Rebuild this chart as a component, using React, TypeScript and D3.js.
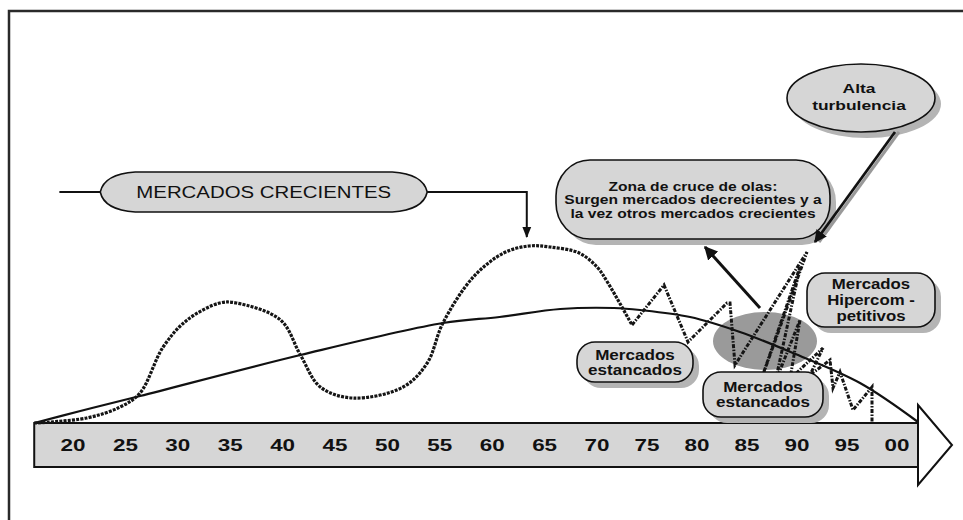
import * as d3 from "d3";

const W = 963;
const H = 520;
const FONT = "'Liberation Sans', Arial, sans-serif";

// eje de tiempo
const tickYears = [1920, 1925, 1930, 1935, 1940, 1945, 1950, 1955, 1960, 1965, 1970, 1975, 1980, 1985, 1990, 1995, 2000];
const tickLabels = ["20", "25", "30", "35", "40", "45", "50", "55", "60", "65", "70", "75", "80", "85", "90", "95", "00"];

// onda larga (linea continua)
const longYears = [1916.3, 1920.7, 1926.4, 1941.7, 1955.3, 1960.7, 1966.5, 1971.7, 1974.3, 1979.3, 1984.3, 1989.6, 1996.3, 2002.1];
const longValues = [0, 6, 13.5, 34, 50, 53, 57, 57.5, 56.5, 53, 45.5, 35, 20, 0.5];

// ondas de mercado (linea punteada, tramo suave)
const waveYears = [1916.3, 1921.3, 1924.5, 1926.4, 1928.6, 1930.9, 1934.0, 1935.6, 1939.8, 1941.7, 1943.6, 1946.7, 1951.5, 1953.8, 1955.3, 1958.2, 1961.1, 1963.5, 1965.5, 1968.3, 1970.0, 1971.1, 1973.5];
const waveValues = [0, 2.5, 8, 15, 38, 51.5, 60, 60, 51.5, 34, 18, 12.5, 18, 30, 50, 73, 85, 88.5, 88, 85, 78, 70, 49];

// tramo en zigzag y turbulencia
const zigYears = [1973.5, 1976.7, 1979.1, 1983.0, 1983.3, 1983.8, 1991.0, 1986.3, 1990.3, 1987.8, 1990.3, 1989.3, 1992.6, 1991.3, 1993.3, 1993.6, 1994.3, 1995.6, 1997.5, 1997.5];
const zigValues = [49, 69, 40.5, 60, 60, 29, 85.5, 20, 78, 20, 51.5, 22, 37.5, 24, 31.5, 17.5, 25.5, 6.5, 18, 0];

const x = d3.scaleLinear().domain([1920, 1970, 2000]).range([73, 597, 897]);
const y = d3.scaleLinear().domain([0, 100]).range([423, 223]);

function SText({ cx, cy, size, bold, sx, children }: any) {
  return (
    <text
      transform={`translate(${cx},${cy}) scale(${sx},1)`}
      textAnchor="middle"
      fontSize={size}
      fontWeight={bold ? "bold" : "normal"}
      fontFamily={FONT}
      fill="#111"
    >
      {children}
    </text>
  );
}

function Box({ yr, val, w, h, r, lines, size, bold, sx, gap }: any) {
  const cx = x(yr);
  const cy = y(val);
  const top = cy - ((lines.length - 1) * gap) / 2 + size * 0.36;
  return (
    <g>
      <rect x={cx - w / 2 + 6} y={cy - h / 2 + 6} width={w} height={h} rx={r} ry={r} fill="#b4b4b4" />
      <rect x={cx - w / 2} y={cy - h / 2} width={w} height={h} rx={r} ry={r} fill="#d6d6d6" stroke="#111" strokeWidth={1.6} />
      {lines.map((t: string, i: number) => (
        <SText key={i} cx={cx} cy={top + i * gap} size={size} bold={bold} sx={sx}>
          {t}
        </SText>
      ))}
    </g>
  );
}

export default function App() {
  const smooth = d3
    .line<number>()
    .x((_, i) => x(longYears[i]))
    .y((d) => y(d))
    .curve(d3.curveCatmullRom.alpha(0.5));
  const wave = d3
    .line<number>()
    .x((_, i) => x(waveYears[i]))
    .y((d) => y(d))
    .curve(d3.curveCatmullRom.alpha(0.5));
  const zig = d3
    .line<number>()
    .x((_, i) => x(zigYears[i]))
    .y((d) => y(d));

  const bandL = x(longYears[0]);
  const bandR = x(longYears[longYears.length - 1]);
  const bandT = y(0);
  const bandB = y(-22);
  const tipX = x(2005.5);

  // conector "MERCADOS CRECIENTES"
  const crL = x(1922.6);
  const crR = x(1953.8);
  const crT = y(125.5);
  const crB = y(105.5);
  const crM = (crT + crB) / 2;
  const crPath = `M${crL},${crM} Q${crL + 4},${crT + 2} ${crL + 35},${crT} L${crR - 35},${crT} Q${crR - 4},${crT + 2} ${crR},${crM} Q${crR - 4},${crB - 2} ${crR - 35},${crB} L${crL + 35},${crB} Q${crL + 4},${crB - 2} ${crL},${crM} Z`;
  const arrX = x(1963.3);

  // zona de cruce
  const zCx = x(1979.6);
  const zCy = y(111.75);
  const zW = 274;
  const zH = 79;

  // alta turbulencia
  const aCx = x(1996.4);
  const aCy = y(162.5);

  return (
    <svg width={W} height={H} style={{ position: "absolute", left: 0, top: 0, background: "#fff" }}>
      <defs>
        <marker id="head" viewBox="0 0 10 10" refX="9" refY="5" markerWidth="4.5" markerHeight="4.5" orient="auto-start-reverse">
          <path d="M0,0 L10,5 L0,10 Z" fill="#111" />
        </marker>
        <marker id="headS" viewBox="0 0 10 10" refX="9" refY="5" markerWidth="6" markerHeight="5.5" orient="auto">
          <path d="M0,1 L10,5 L0,9 Z" fill="#111" />
        </marker>
      </defs>

      <rect x={9} y={11} width={1000} height={600} fill="none" stroke="#2a2a2a" strokeWidth={2.5} />

      {/* banda de tiempo */}
      <rect x={bandL} y={bandT} width={bandR - bandL} height={bandB - bandT} fill="#d6d6d6" stroke="#111" strokeWidth={2} />
      <path
        d={`M${bandR},${y(9)} L${tipX},${(bandT + bandB) / 2} L${bandR},${y(-31)} Z`}
        fill="#fff"
        stroke="#111"
        strokeWidth={2}
      />
      {tickYears.map((t, i) => (
        <SText key={t} cx={x(t)} cy={bandB - 16} size={16} bold sx={1.4}>
          {tickLabels[i]}
        </SText>
      ))}

      {/* elipse de cruce */}
      <ellipse cx={x(1986.8)} cy={y(41)} rx={52} ry={29} fill="#9a9a9a" />

      {/* curvas */}
      <path d={smooth(longValues) ?? ""} fill="none" stroke="#111" strokeWidth={2.2} />
      <path d={wave(waveValues) ?? ""} fill="none" stroke="#151515" strokeWidth={3.2} strokeDasharray="3 1.2" />
      <path d={zig(zigValues) ?? ""} fill="none" stroke="#151515" strokeWidth={3} strokeDasharray="4 1.5 1.5 1.5" strokeLinejoin="miter" />

      {/* flecha elipse -> zona */}
      <line x1={x(1986.3)} y1={y(57.5)} x2={x(1980.8)} y2={y(88)} stroke="#111" strokeWidth={3} markerEnd="url(#head)" />

      {/* MERCADOS CRECIENTES */}
      <line x1={x(1918.7)} y1={crM} x2={crL} y2={crM} stroke="#111" strokeWidth={2} />
      <path d={crPath} fill="#d6d6d6" stroke="#111" strokeWidth={1.6} />
      <polyline points={`${crR},${crM} ${arrX},${crM} ${arrX},${y(93)}`} fill="none" stroke="#111" strokeWidth={2} markerEnd="url(#headS)" />
      <SText cx={(crL + crR) / 2} cy={crM + 6} size={17} sx={1.2}>
        MERCADOS CRECIENTES
      </SText>

      {/* zona de cruce */}
      <rect x={zCx - zW / 2 + 6} y={zCy - zH / 2 + 6} width={zW} height={zH} rx={34} ry={36} fill="#b4b4b4" />
      <rect x={zCx - zW / 2} y={zCy - zH / 2} width={zW} height={zH} rx={34} ry={36} fill="#d6d6d6" stroke="#111" strokeWidth={1.6} />
      <SText cx={zCx} cy={zCy - 9} size={12} bold sx={1.3}>Zona de cruce de olas:</SText>
      <SText cx={zCx} cy={zCy + 4.5} size={12} bold sx={1.3}>Surgen mercados decrecientes y a</SText>
      <SText cx={zCx} cy={zCy + 18} size={12} bold sx={1.3}>la vez otros mercados crecientes</SText>

      {/* alta turbulencia */}
      <ellipse cx={aCx + 6} cy={aCy + 6} rx={74} ry={34} fill="#b4b4b4" />
      <ellipse cx={aCx} cy={aCy} rx={74} ry={34} fill="#d6d6d6" stroke="#111" strokeWidth={1.6} />
      <SText cx={aCx - 2} cy={aCy - 5} size={12} bold sx={1.45}>Alta</SText>
      <SText cx={aCx - 2} cy={aCy + 12} size={12} bold sx={1.45}>turbulencia</SText>
      <line x1={x(2000.2)} y1={y(145.5)} x2={x(1992.2)} y2={y(90.5)} stroke="#999" strokeWidth={3} />
      <line x1={x(1999.8)} y1={y(145.5)} x2={x(1991.8)} y2={y(90.5)} stroke="#111" strokeWidth={2.8} markerEnd="url(#head)" />

      <Box yr={1997.4} val={61.5} w={128} h={54} r={18} lines={["Mercados", "Hipercom -", "petitivos"]} size={14} bold sx={1.2} gap={16} />
      <Box yr={1973.8} val={30.5} w={116} h={40} r={18} lines={["Mercados", "estancados"]} size={14} bold sx={1.22} gap={15} />
      <Box yr={1986.6} val={14.25} w={120} h={45} r={18} lines={["Mercados", "estancados"]} size={14} bold sx={1.22} gap={15} />
    </svg>
  );
}
